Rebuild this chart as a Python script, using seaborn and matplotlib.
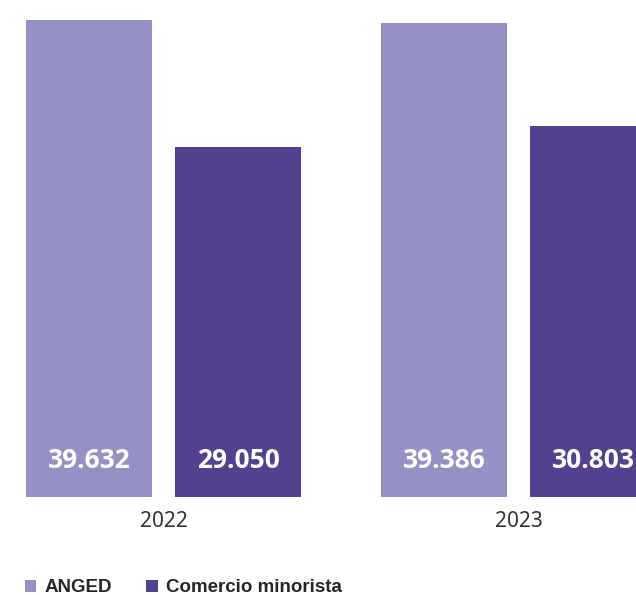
import matplotlib
matplotlib.use("Agg")
import matplotlib.pyplot as plt
import seaborn as sns
import pandas as pd

# Data
years = ["2022", "2023"]
series = ["ANGED", "Comercio minorista"]
anged = [39632, 39386]
comercio = [29050, 30803]
colors = ["#9590C5", "#51418F"]

df = pd.DataFrame({
    "year": years * 2,
    "serie": [series[0]] * len(years) + [series[1]] * len(years),
    "valor": anged + comercio,
})

sns.set_theme(style="white")

fig = plt.figure(figsize=(6.36, 5.95), dpi=100)
ax = fig.add_axes([0, 98 / 595, 1, 497 / 595])

sns.barplot(data=df, x="year", y="valor", hue="serie", hue_order=series,
            palette=colors, width=0.84, gap=0.155, saturation=1,
            edgecolor="none", linewidth=0, ax=ax)

ax.set_xlim(-0.4606, 1.331)
ax.set_ylim(0, 41255)
ax.set_xlabel("")
ax.set_ylabel("")
ax.set_yticks([])
sns.despine(ax=ax, left=True, bottom=True, top=True, right=True)
ax.tick_params(axis="x", length=0, pad=10)
for lbl in ax.get_xticklabels():
    lbl.set_fontfamily("Noto Sans")
    lbl.set_fontsize(15)
    lbl.set_color("#333333")

# Value labels inside bars, near the base
for cont in ax.containers:
    for bar in cont:
        v = bar.get_height()
        txt = f"{int(round(v)):,}".replace(",", ".")
        ax.annotate(txt, (bar.get_x() + bar.get_width() / 2, 0),
                    xytext=(0, 36.5), textcoords="offset pixels",
                    ha="center", va="center", color="white",
                    fontsize=19, fontweight="bold", family="Open Sans")

sns.move_legend(ax, "center left", bbox_to_anchor=(0.039, -0.183),
                ncol=2, frameon=False, title=None,
                handlelength=0.62, handleheight=0.62, handletextpad=0.45,
                columnspacing=1.8, borderaxespad=0, borderpad=0,
                prop={"family": "Liberation Sans", "weight": "bold", "size": 13.5})

fig.savefig("out.png", dpi=100)
